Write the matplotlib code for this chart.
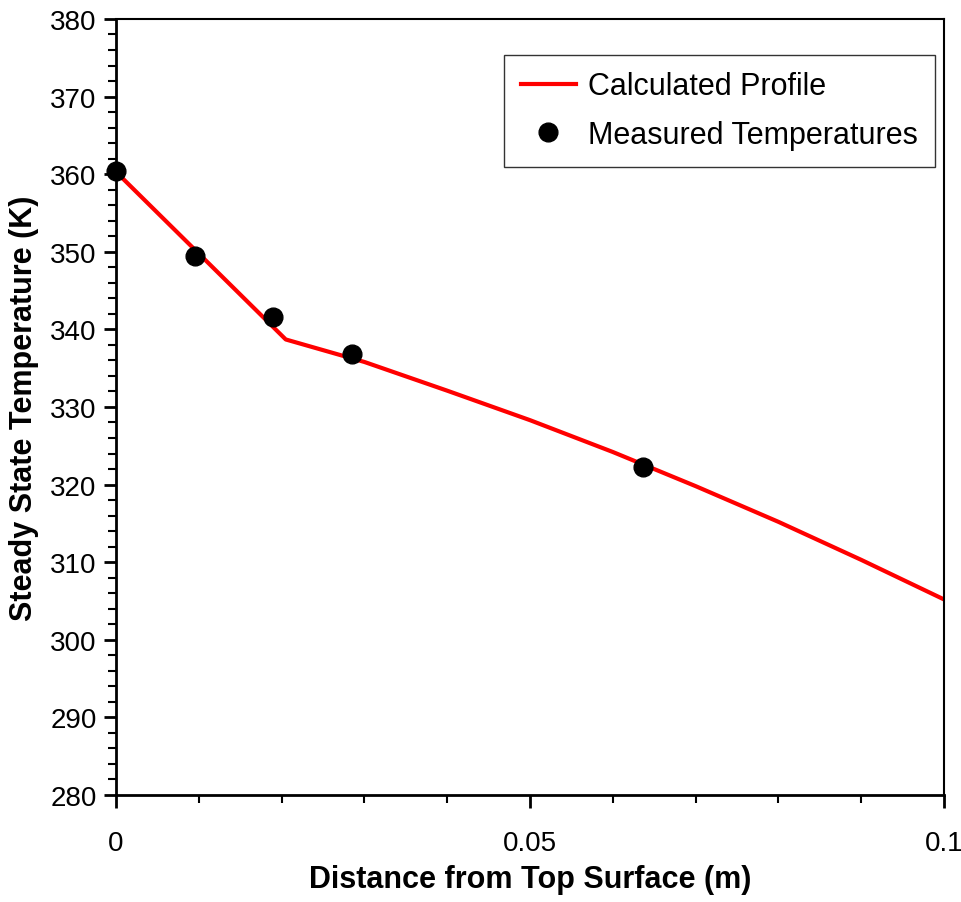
import matplotlib
matplotlib.use('Agg')
import matplotlib.pyplot as plt
from matplotlib.ticker import MultipleLocator, FixedLocator

# calculated profile
calc_x = [0, 0.0205, 0.03, 0.04, 0.05, 0.06, 0.07, 0.08, 0.09, 0.1]
calc_T = [360.3, 338.7, 335.8, 332.1, 328.3, 324.2, 319.8, 315.2, 310.3, 305.2]

# measured temperatures
meas_x = [0, 0.0095, 0.019, 0.0285, 0.0636]
meas_T = [360.4, 349.5, 341.6, 336.8, 322.3]

plt.rcParams['font.family'] = ['Liberation Sans Narrow', 'Liberation Sans', 'DejaVu Sans']

fig = plt.figure(figsize=(9.62, 9.03), dpi=100)
ax = fig.add_axes([0.1206, 0.1185, 0.8607, 0.8594])

ax.plot(calc_x, calc_T, color='red', lw=3, label='Calculated Profile', zorder=2)
ax.plot(meas_x, meas_T, 'o', color='black', ms=13.5, ls='none',
        label='Measured Temperatures', clip_on=False, zorder=3)

ax.set_xlim(0, 0.1)
ax.set_ylim(280, 380)
ax.xaxis.set_major_locator(FixedLocator([0, 0.05, 0.1]))
ax.xaxis.set_minor_locator(MultipleLocator(0.01))
ax.yaxis.set_major_locator(MultipleLocator(10))
ax.yaxis.set_minor_locator(MultipleLocator(2))
ax.set_xticklabels(['0', '0.05', '0.1'])

ax.tick_params(which='major', length=9, width=2, labelsize=20, direction='out')
ax.tick_params(which='minor', length=6, width=1.5, direction='out')
ax.tick_params(axis='x', which='major', pad=16)
ax.tick_params(axis='y', which='major', pad=5)

ax.spines['left'].set_linewidth(2)
ax.spines['bottom'].set_linewidth(2)
ax.spines['top'].set_linewidth(1.5)
ax.spines['right'].set_linewidth(1.5)

ax.set_xlabel('Distance from Top Surface (m)', fontsize=22, fontweight='bold', labelpad=6)
ax.set_ylabel('Steady State Temperature (K)', fontsize=22, fontweight='bold', labelpad=8)

leg = ax.legend(loc='upper right', bbox_to_anchor=(0.989, 0.954), borderaxespad=0,
                fontsize=22, frameon=True, fancybox=False, edgecolor='black',
                handlelength=1.8, borderpad=0.55, labelspacing=0.6, handletextpad=0.4)
leg.get_frame().set_linewidth(1)

fig.savefig('out.png', dpi=100)
